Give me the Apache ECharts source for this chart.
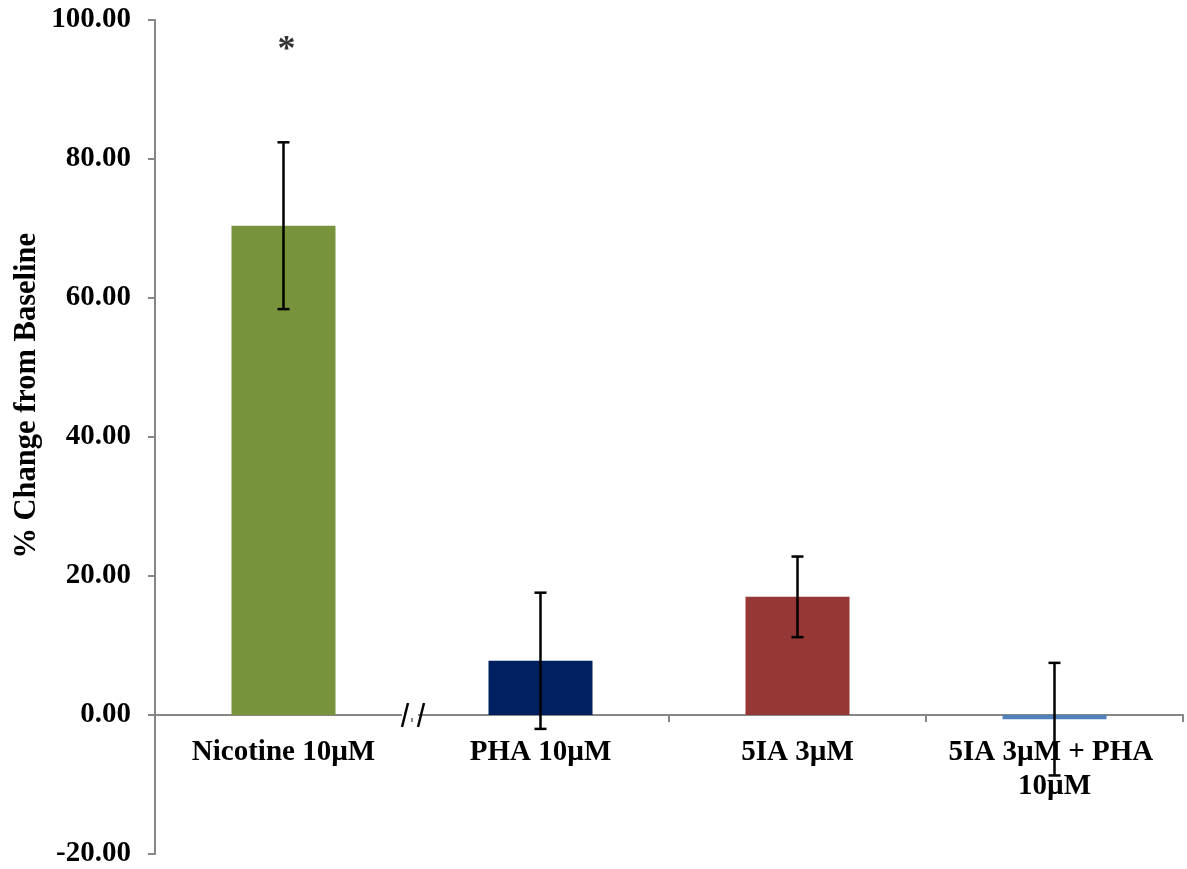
<!DOCTYPE html>
<html><head><meta charset="utf-8">
<script src="https://cdn.jsdelivr.net/npm/echarts@6/dist/echarts.min.js"></script>
<style>html,body{margin:0;padding:0;background:#fff}#c{width:1187px;height:869px}</style>
</head><body><div id="c"></div>
<script>
const categories = ['Nicotine 10µM', 'PHA 10µM', '5IA 3µM', '5IA 3µM + PHA 10µM'];
const means = [70.4, 7.8, 17.0, -0.6];
const errors = [12.0, 9.8, 5.8, 8.1];
const sigMarks = ['*', '', '', ''];
const sigHeights = [96.0, null, null, null];
const yTicks = { min: -20, max: 100, interval: 20 };
const barColors = ['#77933C', '#002060', '#953735', '#4F81BD'];

const FONT = 'Liberation Serif';
const chart = echarts.init(document.getElementById('c'), null, { renderer: 'canvas' });

const option = {
  animation: false,
  backgroundColor: '#fff',
  grid: {
    left: 155, right: 4, top: 20, bottom: 15, containLabel: false,
    outerBounds: { left: -300, right: -300, top: -300, bottom: -300 }
  },
  xAxis: [
    {
      // labels only, drawn just below the zero line
      type: 'category',
      data: categories,
      boundaryGap: true,
      position: 'bottom',
      axisLine: { show: false, onZero: false },
      axisTick: { show: false },
      axisLabel: {
        interval: 0, margin: -118, color: '#000', fontFamily: FONT, fontWeight: 'bold', fontSize: 29,
        width: 250, overflow: 'break', lineHeight: 34
      },
      z: 1
    },
    {
      // zero line with category-boundary ticks
      type: 'category',
      data: categories,
      boundaryGap: true,
      position: 'bottom',
      axisLine: { show: true, onZero: true, lineStyle: { color: '#868686', width: 2 } },
      axisTick: { show: true, length: 7, inside: false, lineStyle: { color: '#868686', width: 2 } },
      axisLabel: { show: false },
      z: 1
    }
  ],
  yAxis: {
    type: 'value',
    min: yTicks.min, max: yTicks.max, interval: yTicks.interval,
    splitLine: { show: false },
    axisLine: { show: true, lineStyle: { color: '#868686', width: 2 } },
    axisTick: { show: true, length: 7, lineStyle: { color: '#868686', width: 2 } },
    axisLabel: {
      margin: 24, color: '#000', fontFamily: FONT, fontWeight: 'bold', fontSize: 29,
      formatter: v => v.toFixed(2)
    }
  },
  graphic: [{
    type: 'text',
    left: 12, top: 233,
    rotation: Math.PI / 2,
    style: {
      text: '% Change from Baseline',
      fontFamily: FONT, fontWeight: 'bold', fontSize: 30.5,
      fill: '#000'
    }
  }],
  series: [
    {
      type: 'bar',
      xAxisIndex: 0,
      barWidth: 104,
      data: means.map((v, i) => ({ value: v, itemStyle: { color: barColors[i] } })),
      z: 2
    },
    {
      type: 'custom',
      xAxisIndex: 0,
      z: 10,
      zlevel: 1,
      data: means.map((v, i) => [i, v - errors[i], v + errors[i]]),
      renderItem: function (params, api) {
        const x = api.value(0);
        const lo = api.coord([x, api.value(1)]);
        const hi = api.coord([x, api.value(2)]);
        const half = 6;
        const st = { stroke: '#000', lineWidth: 2.5 };
        return {
          type: 'group',
          children: [
            { type: 'line', shape: { x1: lo[0], y1: lo[1], x2: hi[0], y2: hi[1] }, style: st },
            { type: 'line', shape: { x1: lo[0] - half, y1: lo[1], x2: lo[0] + half, y2: lo[1] }, style: st },
            { type: 'line', shape: { x1: hi[0] - half, y1: hi[1], x2: hi[0] + half, y2: hi[1] }, style: st }
          ]
        };
      }
    },
    {
      type: 'scatter',
      xAxisIndex: 0,
      symbol: 'circle',
      symbolSize: 2,
      itemStyle: { color: 'rgba(0,0,0,0)' },
      data: sigHeights.map((h, i) => h == null ? null : [i, h]).filter(d => d),
      label: {
        show: true, position: 'inside', offset: [3, 3],
        formatter: p => sigMarks[p.data[0]],
        fontFamily: FONT, fontWeight: 'bold', fontSize: 36, color: '#000'
      }
    }
  ]
};
chart.setOption(option);

// axis break marks between first and second category
const p0 = chart.convertToPixel({ xAxisIndex: 0, yAxisIndex: 0 }, [0, 0]);
const p1 = chart.convertToPixel({ xAxisIndex: 0, yAxisIndex: 0 }, [1, 0]);
const bx = (p0[0] + p1[0]) / 2;
const by = p0[1];
const slash = (cx) => ({
  type: 'line',
  shape: { x1: cx + 3, y1: by - 12, x2: cx - 3, y2: by + 12 },
  style: { stroke: '#000', lineWidth: 2.5 },
  z: 100
});
chart.setOption({
  graphic: [
    option.graphic[0],
    { type: 'rect', shape: { x: bx - 10, y: by - 3, width: 16, height: 6 }, style: { fill: '#fff' }, z: 99 },
    slash(bx - 7),
    slash(bx + 9)
  ]
});
</script>
</body></html>
